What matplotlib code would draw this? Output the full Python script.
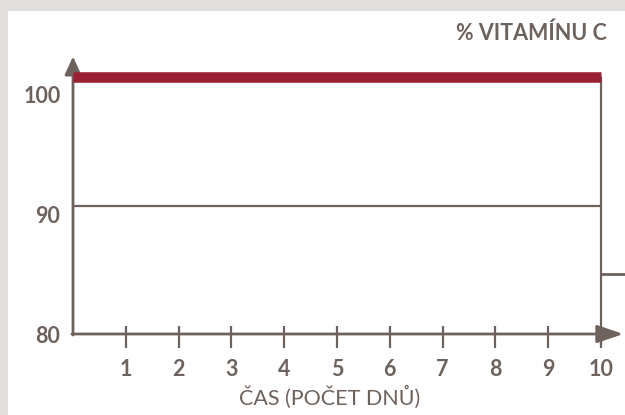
import matplotlib
matplotlib.use("Agg")
import matplotlib.pyplot as plt
import matplotlib.transforms as mtransforms

# data
days = [1, 2, 3, 4, 5, 6, 7, 8, 9, 10]
day_labels = ["1", "2", "3", "4", "5", "6", "7", "8", "9", "10"]
vitamin_full = 100      # red line
reference_90 = 90       # gray line
after_day10 = 84.7      # stub after day 10
y_tick_pos = [80, 89.3, 98.6]
y_tick_labels = ["80", "90", "100"]
x_start, x_end = 0, 10
y_min, y_max = 80, 100

W, H = 625, 415
DPI = 100
fig = plt.figure(figsize=(W / DPI, H / DPI), dpi=DPI)
fig.patch.set_facecolor("#e1dedb")
# white panel
fig.patches.append(plt.Rectangle((8 / W, 0), 1 - 8 / W, 1 - 11 / H,
                                 transform=fig.transFigure, facecolor="white",
                                 edgecolor="none", zorder=-5))

GR = "#6e625c"
RED = "#9b1f33"
FONT = "Lato"
FS = 15.5

ax_l, ax_r = 73, 601
ax_t, ax_b = 77, 334
ax = fig.add_axes([ax_l / W, (H - ax_b) / H, (ax_r - ax_l) / W, (ax_b - ax_t) / H])
ax.set_zorder(2)
ax.set_xlim(x_start, x_end)
ax.set_ylim(y_min, y_max)
ax.patch.set_alpha(0)
for s in ax.spines.values():
    s.set_visible(False)

# data lines
ax.plot([x_start, x_end], [vitamin_full, vitamin_full], color=RED, lw=7.6,
        solid_capstyle="butt", clip_on=False, zorder=5)
ax.plot([x_start, x_end], [reference_90, reference_90], color=GR, lw=1.6,
        solid_capstyle="butt", clip_on=False, zorder=3)
ax.plot([x_end, x_end], [y_min - 0.85, vitamin_full], color=GR, lw=1.6,
        solid_capstyle="butt", clip_on=False, zorder=3)
ax.plot([x_end, x_end + 0.5], [after_day10, after_day10], color=GR, lw=2.0,
        solid_capstyle="butt", clip_on=False, zorder=3)

# axes with arrows
ax.annotate("", xy=(10.42, y_min), xytext=(x_start - 0.02, y_min),
            arrowprops=dict(arrowstyle="-|>,head_length=1.6,head_width=0.55",
                            color=GR, lw=2.0, shrinkA=0, shrinkB=0),
            annotation_clip=False, zorder=4)
ax.annotate("", xy=(x_start, 101.6), xytext=(x_start, y_min - 0.08),
            arrowprops=dict(arrowstyle="-|>,head_length=1.1,head_width=0.5",
                            color=GR, lw=2.0, shrinkA=0, shrinkB=0),
            annotation_clip=False, zorder=4)

# ticks
ax.set_xticks(days)
ax.set_xticklabels(day_labels, fontfamily=FONT, fontweight="bold",
                   fontsize=FS, color=GR)
ax.tick_params(axis="x", direction="inout", length=16, width=1.6, color=GR,
               pad=-4)
offset = mtransforms.ScaledTranslation(0, -3 / DPI, fig.dpi_scale_trans)
for t in ax.xaxis.get_major_ticks():
    t.tick1line.set_transform(t.tick1line.get_transform() + offset)
for lbl in ax.get_xticklabels():
    lbl.set_transform(lbl.get_transform() +
                      mtransforms.ScaledTranslation(0, -19 / DPI, fig.dpi_scale_trans))

ax.set_yticks(y_tick_pos)
ax.set_yticklabels(y_tick_labels, fontfamily=FONT, fontweight="bold",
                   fontsize=FS, color=GR)
ax.tick_params(axis="y", length=0, pad=9)

# titles
fig.text(607 / W, 1 - 33 / H, "% VITAMÍNU C", ha="right", va="center",
         fontfamily=FONT, fontweight="bold", fontsize=FS, color=GR)
fig.text(330 / W, 1 - 397 / H, "ČAS (POČET DNŮ)", ha="center", va="center",
         fontfamily=FONT, fontweight="normal", fontsize=FS, color=GR)

fig.savefig("out.png", dpi=DPI, facecolor=fig.get_facecolor())
